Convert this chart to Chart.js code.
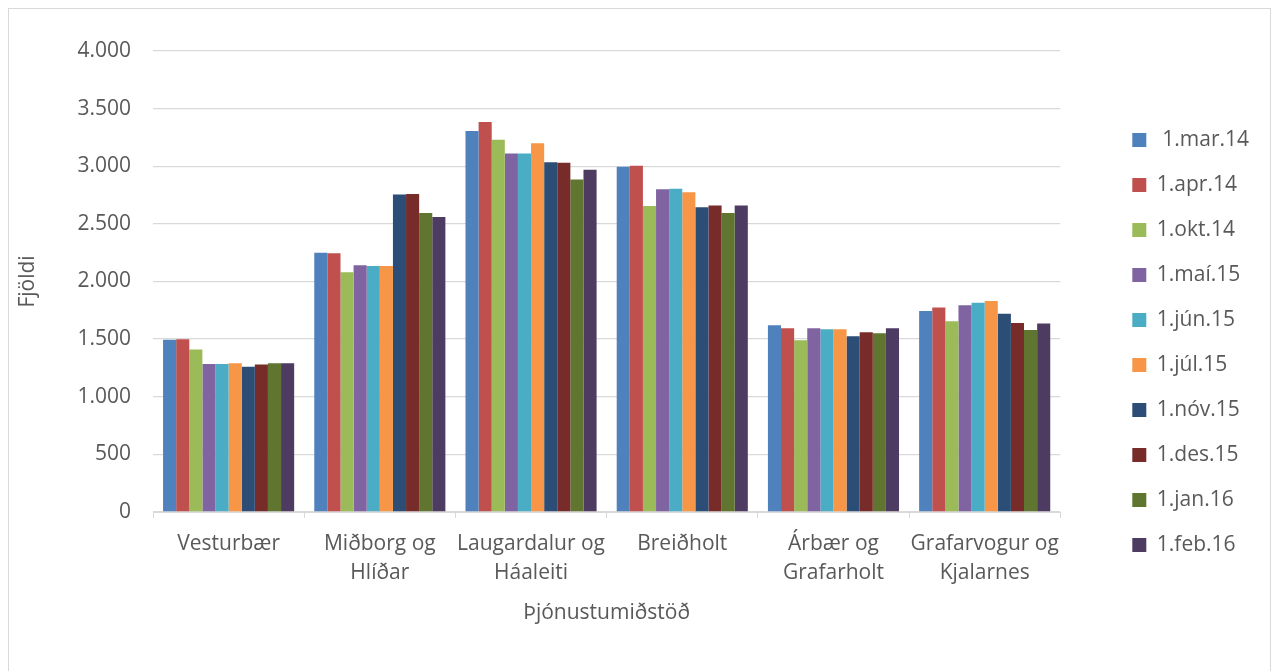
<!DOCTYPE html>
<html lang="is">
<head>
<meta charset="utf-8">
<title>Fjöldi eftir þjónustumiðstöð</title>
<script src="https://cdn.jsdelivr.net/npm/chart.js@4.4.1/dist/chart.umd.min.js"></script>
<style>
  html, body { margin: 0; padding: 0; background: #fff; overflow: hidden; }
  #frame { position: absolute; left: 8px; top: 8px; width: 1261px; height: 700px; border: 1px solid #d9d9d9; }
  #wrap { position: absolute; left: 0; top: 0; width: 1271px; height: 671px; }
</style>
</head>
<body>
<div id="frame"></div>
<div id="wrap"><canvas id="chart"></canvas></div>
<script>
// Categories (service centres), multi-line where the original wraps
const categories = [
    'Vesturbær',
    ['Miðborg og', 'Hlíðar'],
    ['Laugardalur og', 'Háaleiti'],
    'Breiðholt',
    ['Árbær og', 'Grafarholt'],
    ['Grafarvogur og', 'Kjalarnes']
];

// Series names (dates)
const seriesNames = [' 1.mar.14', '1.apr.14', '1.okt.14', '1.maí.15', '1.jún.15',
    '1.júl.15', '1.nóv.15', '1.des.15', '1.jan.16', '1.feb.16'];

// Values, one array per date
const mar14 = [1495, 2250, 3305, 2995, 1620, 1745];
const apr14 = [1500, 2245, 3385, 3005, 1595, 1775];
const okt14 = [1410, 2080, 3230, 2655, 1490, 1655];
const mai15 = [1285, 2140, 3110, 2800, 1595, 1795];
const jun15 = [1285, 2135, 3110, 2805, 1585, 1815];
const jul15 = [1290, 2135, 3200, 2775, 1585, 1830];
const nov15 = [1260, 2755, 3035, 2645, 1525, 1720];
const des15 = [1280, 2760, 3030, 2660, 1560, 1640];
const jan16 = [1290, 2595, 2885, 2595, 1550, 1580];
const feb16 = [1290, 2560, 2970, 2660, 1595, 1635];
const seriesValues = [mar14, apr14, okt14, mai15, jun15, jul15, nov15, des15, jan16, feb16];

// Y axis ticks
const yTicks = [0, 500, 1000, 1500, 2000, 2500, 3000, 3500, 4000];

// Office 2010 palette
const colors = ['#4F81BD', '#C0504D', '#9BBB59', '#8064A2', '#4BACC6',
    '#F79646', '#2C4D75', '#772C2A', '#5F7530', '#4D3B62'];

const fontFamily = '"Open Sans", "Noto Sans", sans-serif';
const textColor = '#595959';
const gridColor = '#d9d9d9';

// Icelandic thousands separator
const fmt = v => String(v).replace(/\B(?=(\d{3})+(?!\d))/g, '.');

const datasets = seriesNames.map((name, i) => ({
    label: name,
    data: seriesValues[i],
    backgroundColor: colors[i],
    borderWidth: 0,
    categoryPercentage: 0.867,
    barPercentage: 1.0
}));

const ctx = document.getElementById('chart').getContext('2d');

const chart = new Chart(ctx, {
    type: 'bar',
    data: {
        labels: categories,
        datasets: datasets
    },
    options: {
        responsive: true,
        maintainAspectRatio: false,
        animation: false,
        layout: {
            padding: { top: 14, right: 12, bottom: 0, left: 0 }
        },
        plugins: {
            tooltip: { enabled: false },
            legend: {
                position: 'right',
                align: 'center',
                labels: {
                    boxWidth: 14,
                    boxHeight: 14,
                    padding: 24,
                    color: textColor,
                    font: { family: fontFamily, size: 21 }
                }
            }
        },
        scales: {
            x: {
                grid: {
                    display: true,
                    drawOnChartArea: false,
                    drawTicks: true,
                    tickLength: 6,
                    color: gridColor
                },
                border: { display: true, color: gridColor },
                ticks: {
                    color: textColor,
                    font: { family: fontFamily, size: 21, lineHeight: 1.35 },
                    padding: 12,
                    maxRotation: 0,
                    autoSkip: false
                },
                title: {
                    display: true,
                    text: 'Þjónustumiðstöð',
                    color: textColor,
                    font: { family: fontFamily, size: 21 },
                    padding: { top: 0, bottom: 45 }
                },
                afterFit(scale) { scale.height = 159; }
            },
            // empty spacer above the plot
            gapTop: {
                type: 'linear',
                axis: 'x',
                position: 'top',
                grid: { display: false },
                ticks: { display: false },
                border: { display: false },
                afterFit(scale) { scale.height = 37; }
            },
            y: {
                min: 0,
                max: 4000,
                afterBuildTicks(scale) { scale.ticks = yTicks.map(v => ({ value: v })); },
                ticks: {
                    padding: 22,
                    color: textColor,
                    font: { family: fontFamily, size: 21 },
                    callback: v => fmt(v)
                },
                grid: { color: gridColor, lineWidth: 1.3, drawTicks: false },
                border: { display: false },
                title: {
                    display: true,
                    text: 'Fjöldi',
                    color: textColor,
                    font: { family: fontFamily, size: 21 },
                    padding: { top: 15, bottom: 0 }
                },
                afterFit(scale) { scale.width = 153; }
            },
            // empty spacer between plot and legend
            gapRight: {
                type: 'linear',
                axis: 'y',
                position: 'right',
                grid: { display: false },
                ticks: { display: false },
                border: { display: false },
                afterFit(scale) { scale.width = 48; }
            }
        }
    }
});
</script>
</body>
</html>
